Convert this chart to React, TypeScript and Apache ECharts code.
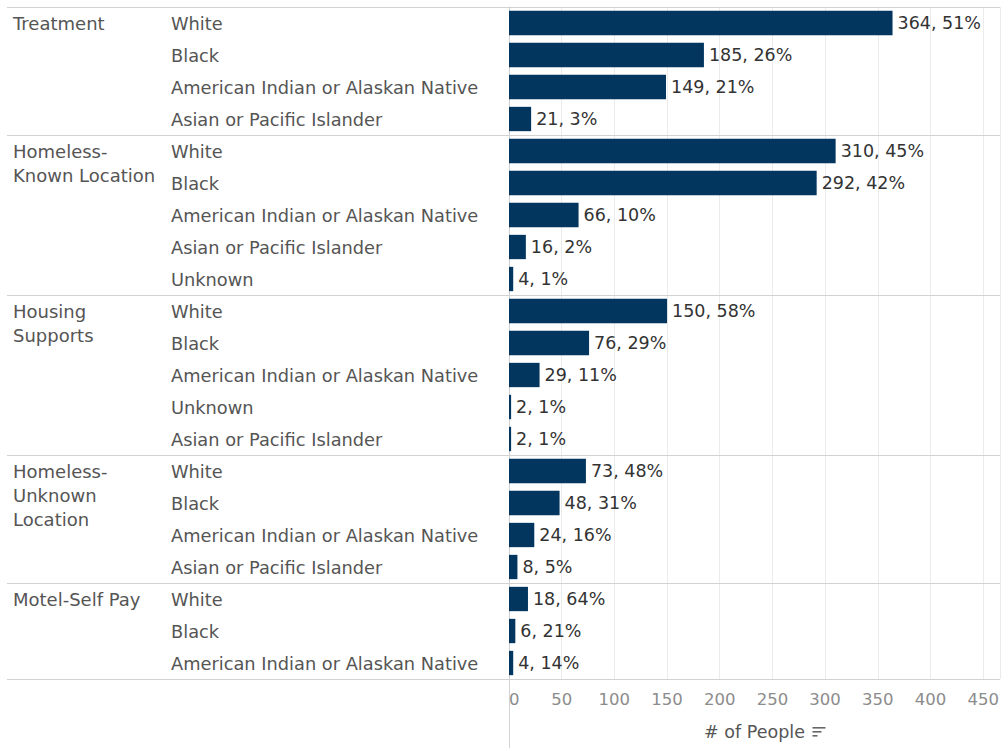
import React, { useEffect, useRef } from "react";
import * as echarts from "echarts";

const groupNames = [
  "Treatment",
  "Homeless-\nKnown Location",
  "Housing\nSupports",
  "Homeless-\nUnknown\nLocation",
  "Motel-Self Pay",
];
const treatmentRaces = ["White", "Black", "American Indian or Alaskan Native", "Asian or Pacific Islander"];
const treatmentCounts = [364, 185, 149, 21];
const treatmentPct = [51, 26, 21, 3];
const knownRaces = ["White", "Black", "American Indian or Alaskan Native", "Asian or Pacific Islander", "Unknown"];
const knownCounts = [310, 292, 66, 16, 4];
const knownPct = [45, 42, 10, 2, 1];
const housingRaces = ["White", "Black", "American Indian or Alaskan Native", "Unknown", "Asian or Pacific Islander"];
const housingCounts = [150, 76, 29, 2, 2];
const housingPct = [58, 29, 11, 1, 1];
const unknownRaces = ["White", "Black", "American Indian or Alaskan Native", "Asian or Pacific Islander"];
const unknownCounts = [73, 48, 24, 8];
const unknownPct = [48, 31, 16, 5];
const motelRaces = ["White", "Black", "American Indian or Alaskan Native"];
const motelCounts = [18, 6, 4];
const motelPct = [64, 21, 14];

const xMax = 466;
const xInterval = 50;
const axisTitle = "# of People";

const FONT = "'DejaVu Sans', sans-serif";

export default function App() {
  const ref = useRef<HTMLDivElement>(null);
  useEffect(() => {
    if (!ref.current) return;
    const chart = echarts.init(ref.current, undefined, { renderer: "svg" });
    const races = [treatmentRaces, knownRaces, housingRaces, unknownRaces, motelRaces];
    const counts = [treatmentCounts, knownCounts, housingCounts, unknownCounts, motelCounts];
    const pcts = [treatmentPct, knownPct, housingPct, unknownPct, motelPct];
    const cats: string[] = [];
    const values: number[] = [];
    const labels: string[] = [];
    const starts: number[] = [];
    races.forEach((rs, gi) => {
      starts.push(cats.length);
      rs.forEach((r, ri) => {
        cats.push(gi + "|" + r);
        values.push(counts[gi][ri]);
        labels.push(counts[gi][ri] + ", " + pcts[gi][ri] + "%");
      });
    });
    starts.push(cats.length);

    chart.setOption({
      animation: false,
      grid: { left: 509, right: 2, top: 7, bottom: 69, containLabel: false },
      xAxis: {
        type: "value",
        min: 0,
        max: xMax,
        interval: xInterval,
        axisLine: { show: false },
        axisTick: { show: false },
        splitLine: { lineStyle: { color: "#ebebeb", width: 1 } },
        axisLabel: {
          color: "#8c8c8c",
          fontSize: 16.5,
          fontFamily: FONT,
          margin: 12,
          showMaxLabel: false,
          alignMinLabel: "left",
        },
        name: axisTitle,
        nameLocation: "middle",
        nameGap: 44,
        nameTextStyle: { color: "#555555", fontSize: 17.5, fontFamily: FONT },
      },
      yAxis: {
        type: "category",
        inverse: true,
        data: cats,
        axisLine: { show: true, lineStyle: { color: "#cfcfcf" } },
        axisTick: { show: false },
        axisLabel: {
          align: "left",
          margin: 338,
          color: "#555555",
          fontSize: 17.8,
          fontFamily: FONT,
          formatter: (v: string) => v.split("|")[1],
        },
      },
      series: [
        {
          type: "bar",
          data: values,
          barCategoryGap: "24%",
          itemStyle: { color: "#03365f" },
          label: {
            show: true,
            position: "right",
            distance: 5,
            color: "#333333",
            fontSize: 17.5,
            fontFamily: FONT,
            formatter: (p: any) => labels[p.dataIndex],
          },
        },
      ],
    });

    const yc = (i: number) => chart.convertToPixel({ yAxisIndex: 0 }, i) as number;
    const rowH = yc(1) - yc(0);
    const xRight = chart.convertToPixel({ xAxisIndex: 0 }, xMax) as number;
    const x0 = chart.convertToPixel({ xAxisIndex: 0 }, 0) as number;
    const yBottom = yc(cats.length - 1) + rowH / 2;
    const graphics: any[] = [];
    starts.forEach((s) => {
      const y = Math.round(s < cats.length ? yc(s) - rowH / 2 : yBottom) + 0.5;
      graphics.push({
        type: "line",
        shape: { x1: 7, y1: y, x2: xRight, y2: y },
        style: { stroke: "#d2d2d2", lineWidth: 1 },
        silent: true,
      });
    });
    groupNames.forEach((g, gi) => {
      graphics.push({
        type: "text",
        x: 13,
        y: yc(starts[gi]) - 12,
        style: {
          text: g,
          fill: "#555555",
          font: "18px " + FONT,
          lineHeight: 24,
          verticalAlign: "top",
          align: "left",
        },
      });
    });
    graphics.push({
      type: "line",
      shape: { x1: Math.round(x0) + 0.5, y1: yBottom, x2: Math.round(x0) + 0.5, y2: 748 },
      style: { stroke: "#d2d2d2", lineWidth: 1 },
      silent: true,
    });
    const xMid = (x0 + xRight) / 2;
    const iconX = xMid + 58;
    const iconY = yBottom + 48;
    [13, 9, 5].forEach((w, i) => {
      graphics.push({
        type: "rect",
        shape: { x: iconX, y: iconY + i * 4, width: w, height: 1.6 },
        style: { fill: "#666666" },
        silent: true,
      });
    });
    chart.setOption({ graphic: graphics });

    return () => chart.dispose();
  }, []);
  return (
    <div
      ref={ref}
      style={{ position: "absolute", left: 0, top: 0, width: 1002, height: 748, background: "#ffffff" }}
    />
  );
}
